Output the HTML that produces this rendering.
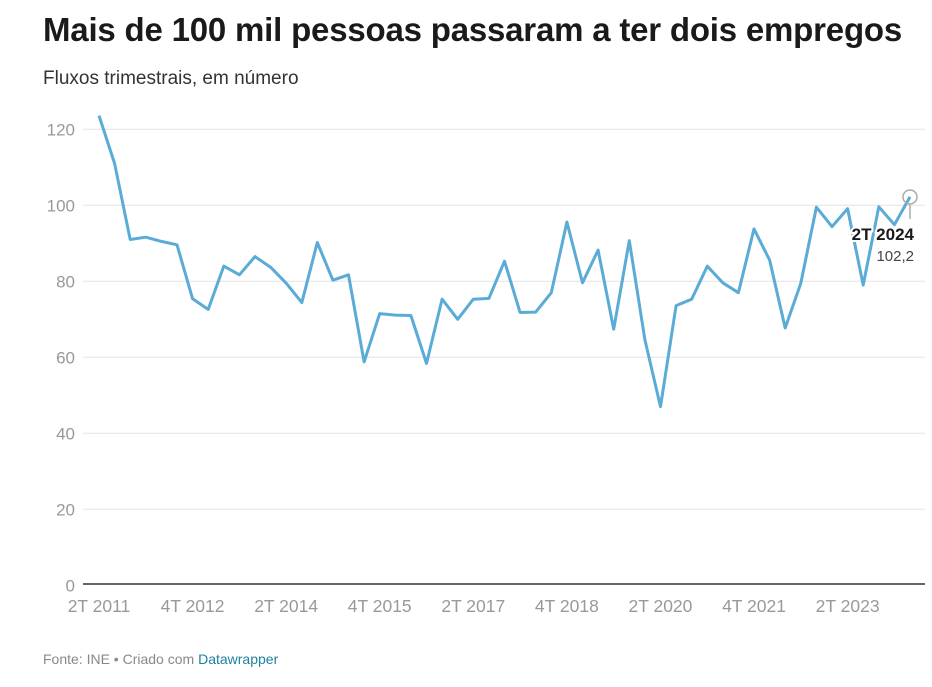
<!DOCTYPE html>
<html><head><meta charset="utf-8"><style>
body{margin:0;background:#fff;font-family:"Liberation Sans",Arial,sans-serif;width:932px;height:687px;overflow:hidden}
h1{position:absolute;left:43px;top:11px;margin:0;font-size:33px;font-weight:bold;color:#1a1a1a;letter-spacing:-0.2px}
.sub{position:absolute;left:43px;top:68px;font-size:19px;color:#333}
.foot{position:absolute;left:43px;top:651px;font-size:14px;color:#888}
.foot span{color:#1d81a2}
svg{position:absolute;left:0;top:0}
</style></head><body>
<h1>Mais de 100 mil pessoas passaram a ter dois empregos</h1>
<div class="sub">Fluxos trimestrais, em número</div>
<svg id="chart" width="932" height="687"></svg>
<div class="foot">Fonte: INE • Criado com <span>Datawrapper</span></div>
<script>
const values=[123.6,111.0,91.0,91.6,90.5,89.6,75.4,72.6,84.0,81.7,86.5,83.7,79.5,74.4,90.2,80.3,81.7,58.8,71.5,71.1,71.0,58.4,75.3,70.0,75.3,75.5,85.3,71.8,71.9,77.0,95.6,79.6,88.2,67.4,90.7,64.6,47.0,73.6,75.3,84.0,79.6,77.0,93.8,85.6,67.7,79.5,99.5,94.4,99.1,79.0,99.6,94.9,102.2];
const yTicks=[0,20,40,60,80,100,120];
const xTickIdx=[0,6,12,18,24,30,36,42,48];
const xTickLabels=["2T 2011","4T 2012","2T 2014","4T 2015","2T 2017","4T 2018","2T 2020","4T 2021","2T 2023"];
const lastLabel="2T 2024", lastValue="102,2";
const NS="http://www.w3.org/2000/svg";
const svg=document.getElementById('chart');
const x=i=>99+i*(811/(values.length-1));
const y=v=>585.3-v*3.8;
function mk(t,a){const e=document.createElementNS(NS,t);for(const k in a)e.setAttribute(k,a[k]);svg.appendChild(e);return e;}
yTicks.forEach(v=>{
 if(v>0){const g=mk('line',{x1:83,x2:925,y1:y(v),y2:y(v),stroke:'#e3e3e3','stroke-width':1});
 
 }
 const t=mk('text',{x:75,y:y(v)+6,'text-anchor':'end','font-size':17,fill:'#999','font-family':'Liberation Sans, sans-serif'});
 t.textContent=v;
 
 
});
const ax=mk('line',{x1:83,x2:925,y1:584,y2:584,stroke:'#333','stroke-width':1.5});


xTickIdx.forEach((idx,k)=>{
 const t=mk('text',{x:x(idx),y:612,'text-anchor':'middle','font-size':17.5,fill:'#999','font-family':'Liberation Sans, sans-serif'});
 t.textContent=xTickLabels[k];
 
 
});
const p=mk('path',{d:values.map((v,i)=>(i?'L':'M')+x(i).toFixed(1)+','+y(v).toFixed(1)).join(''),fill:'none',stroke:'#5aabd6','stroke-width':3,'stroke-linejoin':'round'});


const li=values.length-1,lx=x(li),ly=y(values[li]);
const c=mk('circle',{cx:lx,cy:ly,r:7,fill:'none',stroke:'#aaa','stroke-width':1.5});


const ln=mk('line',{x1:lx,x2:lx,y1:ly+7,y2:ly+22,stroke:'#aaa','stroke-width':1.5});


const t1=mk('text',{x:914,y:240,'text-anchor':'end','font-size':17,'font-weight':'bold',fill:'#1a1a1a',stroke:'#fff','stroke-width':4,'paint-order':'stroke','font-family':'Liberation Sans, sans-serif'});
t1.textContent=lastLabel;


const t2=mk('text',{x:914,y:261,'text-anchor':'end','font-size':15,fill:'#444',stroke:'#fff','stroke-width':4,'paint-order':'stroke','font-family':'Liberation Sans, sans-serif'});
t2.textContent=lastValue;


</script>
</body></html>
